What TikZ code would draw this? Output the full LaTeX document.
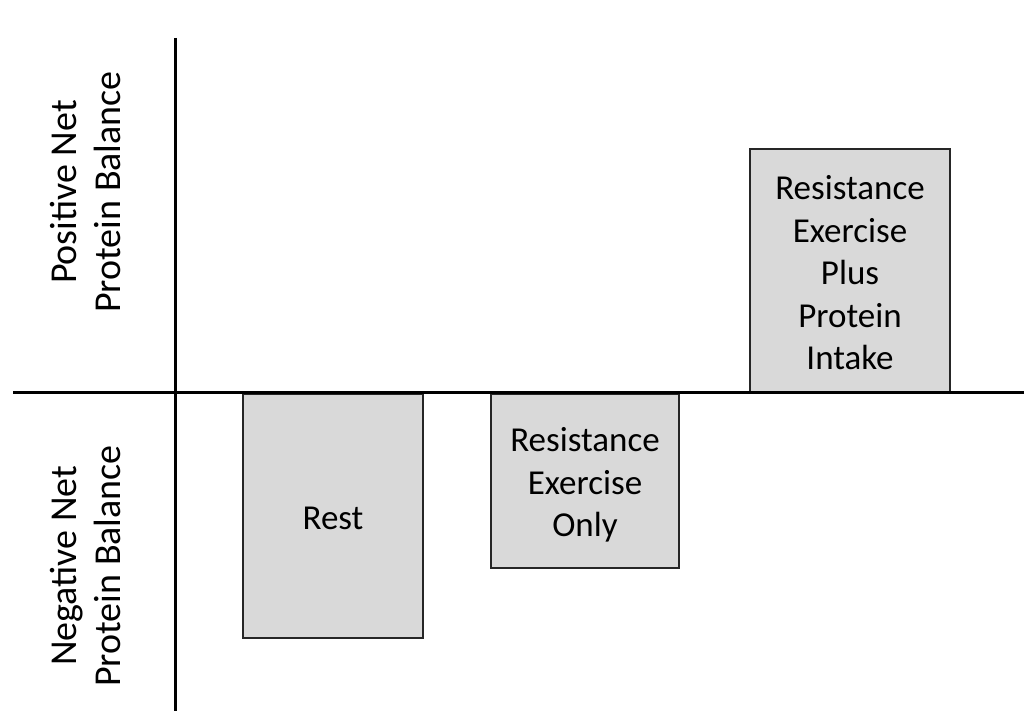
\documentclass[tikz,border=0pt]{standalone}
\usepackage{fontspec}
\setmainfont{Carlito}
\definecolor{boxgray}{HTML}{D9D9D9}
\begin{document}
\begin{tikzpicture}[x=1pt,y=-1pt,
  bar/.style={draw=black!85,line width=2pt,fill=boxgray},
  axis/.style={line width=3pt,black},
  boxtext/.style={font=\fontsize{35}{42.5}\selectfont,align=center},
  sidetext/.style={font=\fontsize{38}{44}\selectfont,align=center,rotate=90}]
\useasboundingbox (0,0) rectangle (1024,711);
% bars
\draw[bar] (243,394) rectangle (423,638);
\draw[bar] (491,394) rectangle (679,568);
\draw[bar] (750,149) rectangle (950,392);
\node[boxtext] (rest) at (333,518) {Rest};
\node[boxtext] (reo) at (585,485) {Resistance\\Exercise\\Only};
\node[boxtext] (repp) at (850,273) {Resistance\\Exercise\\Plus\\Protein\\Intake};
% axes
\coordinate (ytop) at (175,38);
\coordinate (ybot) at (175,711);
\coordinate (xl) at (13,392);
\coordinate (xr) at (1024,392);
\draw[axis] (ytop) -- (ybot);
\draw[axis] (xl) -- (xr);
\node[sidetext] (pos) at (86,192) {Positive Net\\Protein Balance};
\node[sidetext] (neg) at (86,566) {Negative Net\\Protein Balance};
\end{tikzpicture}
\end{document}
